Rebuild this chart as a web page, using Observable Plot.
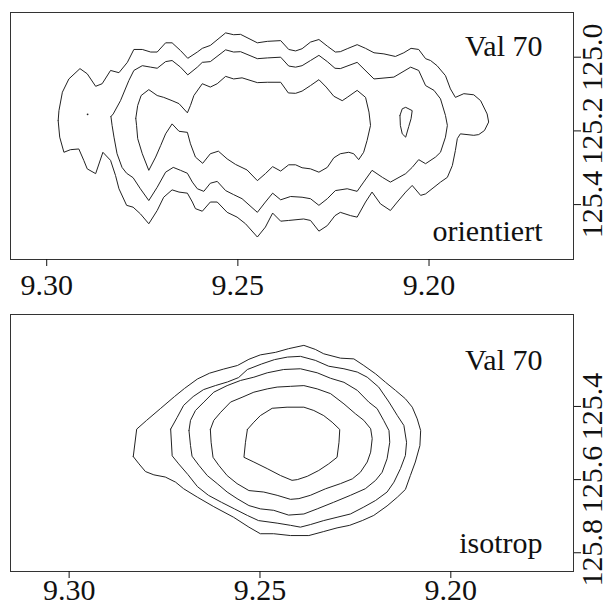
<!DOCTYPE html>
<html><head><meta charset="utf-8">
<script src="https://cdn.jsdelivr.net/npm/d3@7"></script>
<script src="https://cdn.jsdelivr.net/npm/@observablehq/plot@0.6"></script>
<style>body{margin:0;background:#fff}#chart svg{display:block}#chart svg text{font-family:'Liberation Serif','Times New Roman',serif !important;font-variant-numeric:normal !important}</style>
</head><body><div id="chart"></div>
<script>
// Tick values and labels
const xTicks = [9.30, 9.25, 9.20];
const yTicksTop = [125.0, 125.2, 125.4];
const yTicksBot = [125.4, 125.6, 125.8];
const panelLabel = "Val 70";
const topLabel = "orientiert";
const botLabel = "isotrop";

// Top panel (orientiert) contour rings: [x, y]
const top1 = [[9.2970,125.172],[9.2968,125.145],[9.2959,125.095],[9.2942,125.059],[9.2913,125.031],[9.2894,125.045],[9.2872,125.079],[9.2855,125.072],[9.2833,125.036],[9.2811,125.042],[9.2789,125.014],[9.2772,124.979],[9.2750,124.979],[9.2728,124.986],[9.2711,124.986],[9.2689,124.961],[9.2672,124.961],[9.2650,124.982],[9.2631,125.003],[9.2606,124.986],[9.2593,124.976],[9.2572,124.968],[9.2532,124.934],[9.2511,124.939],[9.2493,124.938],[9.2449,124.961],[9.2423,124.957],[9.2388,124.955],[9.2367,124.979],[9.2349,124.983],[9.2332,124.977],[9.2310,124.959],[9.2288,124.952],[9.2266,124.970],[9.2245,124.986],[9.2232,124.985],[9.2214,124.977],[9.2188,124.966],[9.2166,124.976],[9.2144,124.988],[9.2118,124.991],[9.2088,124.998],[9.2066,124.988],[9.2047,124.976],[9.2027,124.979],[9.2009,125.004],[9.1996,125.009],[9.1979,125.023],[9.1957,125.050],[9.1944,125.086],[9.1931,125.109],[9.1909,125.099],[9.1883,125.102],[9.1865,125.118],[9.1848,125.154],[9.1844,125.176],[9.1855,125.199],[9.1870,125.210],[9.1883,125.212],[9.1918,125.208],[9.1926,125.221],[9.1931,125.253],[9.1939,125.294],[9.1952,125.326],[9.1970,125.339],[9.1987,125.353],[9.2009,125.371],[9.2022,125.375],[9.2044,125.348],[9.2061,125.366],[9.2083,125.393],[9.2101,125.416],[9.2127,125.398],[9.2149,125.366],[9.2166,125.393],[9.2188,125.434],[9.2205,125.430],[9.2232,125.421],[9.2246,125.430],[9.2266,125.457],[9.2288,125.472],[9.2310,125.443],[9.2328,125.439],[9.2367,125.443],[9.2388,125.445],[9.2409,125.423],[9.2428,125.461],[9.2449,125.488],[9.2480,125.452],[9.2502,125.434],[9.2528,125.421],[9.2554,125.393],[9.2572,125.393],[9.2593,125.418],[9.2611,125.411],[9.2619,125.393],[9.2632,125.369],[9.2654,125.366],[9.2672,125.360],[9.2694,125.380],[9.2711,125.416],[9.2733,125.452],[9.2755,125.425],[9.2774,125.407],[9.2791,125.402],[9.2811,125.357],[9.2820,125.321],[9.2833,125.280],[9.2853,125.258],[9.2872,125.316],[9.2894,125.303],[9.2903,125.280],[9.2916,125.249],[9.2938,125.251],[9.2955,125.258],[9.2966,125.217]];
const top2 = [[9.2832,125.161],[9.2826,125.154],[9.2807,125.118],[9.2785,125.063],[9.2772,125.036],[9.2750,125.023],[9.2728,125.027],[9.2711,125.030],[9.2689,125.012],[9.2672,125.009],[9.2650,125.027],[9.2631,125.048],[9.2606,125.027],[9.2593,125.014],[9.2572,125.012],[9.2532,124.980],[9.2511,124.986],[9.2493,124.985],[9.2449,125.004],[9.2423,125.002],[9.2388,125.000],[9.2367,125.024],[9.2349,125.027],[9.2332,125.023],[9.2310,125.009],[9.2288,124.995],[9.2266,125.012],[9.2246,125.030],[9.2232,125.031],[9.2188,125.014],[9.2144,125.059],[9.2092,125.054],[9.2048,125.027],[9.2027,125.036],[9.2009,125.077],[9.1987,125.090],[9.1970,125.113],[9.1957,125.158],[9.1952,125.185],[9.1957,125.217],[9.1970,125.258],[9.1983,125.271],[9.2009,125.289],[9.2027,125.278],[9.2044,125.299],[9.2061,125.316],[9.2101,125.339],[9.2122,125.326],[9.2149,125.307],[9.2171,125.339],[9.2188,125.364],[9.2214,125.357],[9.2245,125.362],[9.2266,125.384],[9.2288,125.402],[9.2310,125.384],[9.2332,125.380],[9.2362,125.378],[9.2388,125.387],[9.2409,125.369],[9.2428,125.393],[9.2449,125.421],[9.2489,125.384],[9.2511,125.373],[9.2532,125.362],[9.2554,125.337],[9.2572,125.342],[9.2589,125.364],[9.2606,125.357],[9.2619,125.339],[9.2632,125.315],[9.2650,125.307],[9.2669,125.299],[9.2689,125.312],[9.2711,125.353],[9.2733,125.389],[9.2755,125.357],[9.2774,125.327],[9.2791,125.315],[9.2803,125.299],[9.2816,125.262],[9.2824,125.217],[9.2829,125.185]];
const top3 = [[9.2767,125.166],[9.2762,125.131],[9.2753,125.104],[9.2733,125.088],[9.2711,125.104],[9.2694,125.109],[9.2672,125.118],[9.2654,125.126],[9.2632,125.151],[9.2624,125.131],[9.2615,125.104],[9.2593,125.072],[9.2572,125.081],[9.2554,125.072],[9.2532,125.052],[9.2511,125.059],[9.2489,125.056],[9.2449,125.069],[9.2423,125.068],[9.2388,125.068],[9.2368,125.097],[9.2349,125.098],[9.2332,125.092],[9.2310,125.077],[9.2288,125.061],[9.2269,125.081],[9.2249,125.106],[9.2227,125.118],[9.2214,125.109],[9.2188,125.090],[9.2166,125.109],[9.2157,125.149],[9.2153,125.185],[9.2162,125.226],[9.2171,125.258],[9.2184,125.278],[9.2197,125.262],[9.2210,125.258],[9.2232,125.262],[9.2249,125.273],[9.2266,125.299],[9.2288,125.312],[9.2310,125.303],[9.2332,125.300],[9.2349,125.292],[9.2367,125.292],[9.2388,125.309],[9.2409,125.297],[9.2428,125.316],[9.2449,125.335],[9.2476,125.306],[9.2506,125.291],[9.2528,125.276],[9.2551,125.255],[9.2572,125.262],[9.2592,125.288],[9.2611,125.271],[9.2624,125.235],[9.2632,125.204],[9.2654,125.201],[9.2672,125.181],[9.2689,125.208],[9.2702,125.240],[9.2715,125.271],[9.2733,125.307],[9.2750,125.262],[9.2762,125.221],[9.2765,125.185]];
const top4 = [[9.2076,125.158],[9.2070,125.140],[9.2061,125.136],[9.2044,125.145],[9.2047,125.167],[9.2053,125.188],[9.2061,125.217],[9.2070,125.208],[9.2075,125.185]];
const topDots = [[9.2893,125.155]];

// Bottom panel (isotrop) contour rings: [x, y]
const bot1 = [[9.2832,125.537],[9.2823,125.462],[9.2797,125.438],[9.2761,125.406],[9.2724,125.373],[9.2698,125.351],[9.2664,125.325],[9.2632,125.309],[9.2596,125.298],[9.2559,125.288],[9.2529,125.271],[9.2499,125.259],[9.2459,125.252],[9.2425,125.242],[9.2385,125.233],[9.2355,125.244],[9.2333,125.256],[9.2289,125.268],[9.2254,125.270],[9.2228,125.288],[9.2197,125.311],[9.2171,125.334],[9.2145,125.356],[9.2119,125.379],[9.2101,125.402],[9.2088,125.434],[9.2079,125.466],[9.2081,125.507],[9.2093,125.552],[9.2106,125.589],[9.2119,125.627],[9.2140,125.648],[9.2167,125.672],[9.2202,125.698],[9.2232,125.712],[9.2265,125.725],[9.2298,125.732],[9.2333,125.742],[9.2372,125.753],[9.2420,125.753],[9.2464,125.748],[9.2499,125.748],[9.2529,125.730],[9.2569,125.703],[9.2621,125.674],[9.2664,125.648],[9.2700,125.625],[9.2721,125.607],[9.2748,125.593],[9.2778,125.587],[9.2800,125.578],[9.2817,125.557]];
const bot2 = [[9.2734,125.462],[9.2717,125.430],[9.2700,125.397],[9.2675,125.373],[9.2648,125.354],[9.2617,125.343],[9.2585,125.333],[9.2556,125.321],[9.2533,125.299],[9.2496,125.284],[9.2462,125.272],[9.2428,125.265],[9.2394,125.263],[9.2355,125.274],[9.2320,125.290],[9.2280,125.297],[9.2245,125.306],[9.2219,125.320],[9.2189,125.347],[9.2162,125.388],[9.2140,125.425],[9.2123,125.452],[9.2116,125.498],[9.2119,125.534],[9.2132,125.570],[9.2149,125.607],[9.2167,125.634],[9.2197,125.657],[9.2228,125.675],[9.2263,125.694],[9.2298,125.703],[9.2333,125.712],[9.2368,125.723],[9.2394,125.730],[9.2420,125.725],[9.2455,125.719],[9.2504,125.712],[9.2533,125.698],[9.2567,125.680],[9.2601,125.662],[9.2635,125.643],[9.2664,125.619],[9.2689,125.586],[9.2713,125.557],[9.2730,125.535]];
const bot3 = [[9.2686,125.466],[9.2682,125.438],[9.2669,125.411],[9.2647,125.388],[9.2621,125.361],[9.2586,125.343],[9.2551,125.329],[9.2516,125.320],[9.2481,125.308],[9.2438,125.299],[9.2394,125.297],[9.2350,125.308],[9.2315,125.323],[9.2280,125.334],[9.2245,125.356],[9.2215,125.388],[9.2193,125.406],[9.2176,125.438],[9.2162,125.466],[9.2160,125.498],[9.2167,125.543],[9.2180,125.580],[9.2197,125.602],[9.2224,125.625],[9.2263,125.643],[9.2307,125.662],[9.2350,125.680],[9.2385,125.694],[9.2425,125.697],[9.2464,125.684],[9.2499,125.680],[9.2529,125.671],[9.2560,125.652],[9.2586,125.634],[9.2612,125.611],[9.2638,125.589],[9.2660,125.561],[9.2678,125.536],[9.2682,125.507]];
const bot4 = [[9.2630,125.463],[9.2621,125.438],[9.2603,125.416],[9.2577,125.388],[9.2547,125.375],[9.2516,125.361],[9.2481,125.352],[9.2455,125.347],[9.2420,125.345],[9.2385,125.343],[9.2350,125.352],[9.2315,125.365],[9.2280,125.393],[9.2250,125.420],[9.2228,125.438],[9.2210,125.461],[9.2206,125.488],[9.2210,125.525],[9.2219,125.552],[9.2237,125.580],[9.2258,125.598],[9.2289,125.611],[9.2328,125.625],[9.2368,125.643],[9.2398,125.652],[9.2420,125.654],[9.2455,125.643],[9.2490,125.634],[9.2529,125.630],[9.2560,125.611],[9.2586,125.589],[9.2608,125.561],[9.2623,125.539],[9.2628,125.498]];
const bot5 = [[9.2533,125.463],[9.2516,125.443],[9.2499,125.425],[9.2468,125.405],[9.2429,125.402],[9.2385,125.402],[9.2359,125.411],[9.2333,125.425],[9.2311,125.443],[9.2291,125.463],[9.2293,125.498],[9.2298,125.539],[9.2320,125.557],[9.2346,125.575],[9.2376,125.591],[9.2402,125.600],[9.2416,125.602],[9.2446,125.589],[9.2481,125.570],[9.2516,125.552],[9.2542,125.539],[9.2538,125.498]];

const serif = "'Liberation Serif','Times New Roman',serif";

function rows(rings) {
  return rings.flatMap((r, i) => r.concat([r[0]]).map(([x, y]) => ({x, y, id: i})));
}

function panel({rings, dots, yTicks, xDomain, yDomain, height, marginTop, marginBottom, labelDy, subLabel, xPad}) {
  return Plot.plot({
    width: 610, height, marginLeft: 10, marginRight: 37, marginTop, marginBottom,
    x: {domain: xDomain}, y: {domain: yDomain},
    style: {fontFamily: serif, fontSize: "30px", background: "#fff", color: "#111", overflow: "visible"},
    marks: [
      Plot.frame({stroke: "#333", strokeWidth: 1}),
      Plot.line(rows(rings), {x: "x", y: "y", z: "id", stroke: "#222", strokeWidth: 1}),
      dots ? Plot.dot(dots, {x: d => d[0], y: d => d[1], r: 0.9, fill: "#222"}) : null,
      Plot.axisX({ticks: xTicks, tickFormat: d => d.toFixed(2), tickSize: 7, tickPadding: xPad, label: null, fontSize: 30, fontFamily: serif}),
      Plot.axisY({anchor: "right", ticks: yTicks, tickFormat: d => d.toFixed(1), tickSize: 7, tickPadding: 0, tickRotate: -90, lineAnchor: "top", textAnchor: "middle", label: null, fontSize: 30, fontFamily: serif}),
      Plot.text([panelLabel], {frameAnchor: "top-right", text: d => d, textAnchor: "end", lineAnchor: "top", dx: -31, dy: labelDy, fontSize: 30, fontFamily: serif}),
      Plot.text([subLabel], {frameAnchor: "bottom-right", text: d => d, textAnchor: "end", lineAnchor: "top", dx: -31, dy: -40.3, fontSize: 30, fontFamily: serif})
    ]
  });
}

const chart = document.getElementById("chart");
chart.appendChild(panel({
  rings: [top1, top2, top3, top4], dots: topDots, yTicks: yTicksTop,
  xDomain: [9.30947, 9.16221], yDomain: [125.54898, 124.8787],
  height: 300, marginTop: 12, marginBottom: 41, labelDy: 21.7, subLabel: topLabel, xPad: 7
}));
chart.appendChild(panel({
  rings: [bot1, bot2, bot3, bot4, bot5], dots: null, yTicks: yTicksBot,
  xDomain: [9.31536, 9.16786], yDomain: [125.85126, 125.1486],
  height: 308, marginTop: 14, marginBottom: 37, labelDy: 33.7, subLabel: botLabel, xPad: 0
}));
</script>
</body></html>
